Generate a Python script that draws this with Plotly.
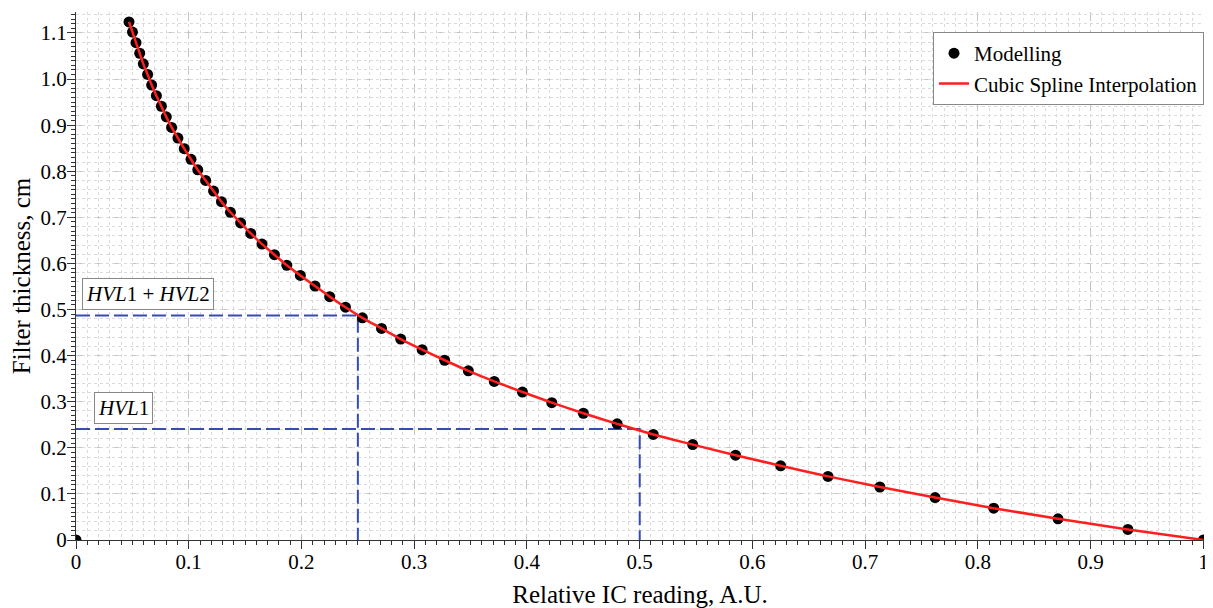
import plotly.graph_objects as go

# ---- data ----
model_x = [0.0, 1.0, 0.933, 0.871, 0.814, 0.762, 0.713, 0.667, 0.625, 0.585, 0.547,
           0.512, 0.480, 0.450, 0.422, 0.396, 0.371, 0.348, 0.327, 0.307, 0.288,
           0.271, 0.254, 0.239, 0.225, 0.212, 0.199, 0.187, 0.176, 0.165, 0.155,
           0.146, 0.137, 0.129, 0.122, 0.115, 0.108, 0.102, 0.096, 0.0904, 0.0848,
           0.0801, 0.0757, 0.0713, 0.0671, 0.0635, 0.0597, 0.0565, 0.0532, 0.0501, 0.0470]
model_y = [0.0, 0.0, 0.023, 0.046, 0.069, 0.092, 0.115, 0.138, 0.161, 0.184, 0.207,
           0.229, 0.252, 0.275, 0.298, 0.321, 0.344, 0.367, 0.390, 0.413, 0.436,
           0.459, 0.482, 0.505, 0.528, 0.551, 0.574, 0.596, 0.619, 0.642, 0.665,
           0.688, 0.711, 0.734, 0.757, 0.780, 0.803, 0.826, 0.849, 0.872, 0.895,
           0.918, 0.941, 0.964, 0.987, 1.010, 1.033, 1.056, 1.079, 1.102, 1.124]
spline_x = model_x[1:]
spline_y = model_y[1:]

hvl1_x, hvl1_y = 0.5, 0.241
hvl12_x, hvl12_y = 0.25, 0.487

x_ticks = [0, 0.1, 0.2, 0.3, 0.4, 0.5, 0.6, 0.7, 0.8, 0.9, 1.0]
x_ticktext = ["0", "0.1", "0.2", "0.3", "0.4", "0.5", "0.6", "0.7", "0.8", "0.9", "1"]
y_ticks = [0, 0.1, 0.2, 0.3, 0.4, 0.5, 0.6, 0.7, 0.8, 0.9, 1.0, 1.1]
y_ticktext = ["0", "0.1", "0.2", "0.3", "0.4", "0.5", "0.6", "0.7", "0.8", "0.9", "1.0", "1.1"]

FONT = "Liberation Serif, Times New Roman, serif"
BLUE = "rgb(55,75,180)"
X_RANGE = [0, 1.0005]
Y_RANGE = [0, 1.1455]

fig = go.Figure()

# dashed HVL guide lines
fig.add_trace(go.Scatter(x=[0, hvl12_x, hvl12_x], y=[hvl12_y, hvl12_y, 0], mode="lines",
                         line=dict(color=BLUE, width=2, dash="14px,5px"),
                         showlegend=False, hoverinfo="skip", cliponaxis=False))
fig.add_trace(go.Scatter(x=[0, hvl1_x, hvl1_x], y=[hvl1_y, hvl1_y, 0], mode="lines",
                         line=dict(color=BLUE, width=2, dash="14px,5px"),
                         showlegend=False, hoverinfo="skip", cliponaxis=False))

fig.add_trace(go.Scatter(x=model_x, y=model_y, mode="markers", name="Modelling",
                         marker=dict(color="black", size=11)))
fig.add_trace(go.Scatter(x=spline_x, y=spline_y, mode="lines", name="Cubic Spline Interpolation",
                         line=dict(color="rgb(255,30,30)", width=2.5, shape="spline")))
# empty trace to carry the overlay axis for the minor horizontal grid
fig.add_trace(go.Scatter(x=[], y=[], yaxis="y2", showlegend=False))

fig.add_annotation(x=0.0636, y=0.534, xref="x", yref="y",
                   text="<i>HVL</i>1 + <i>HVL</i>2", showarrow=False,
                   font=dict(family=FONT, size=21, color="black"),
                   bordercolor="#888888", borderwidth=1, borderpad=3, bgcolor="white")
fig.add_annotation(x=0.0424, y=0.286, xref="x", yref="y",
                   text="<i>HVL</i>1", showarrow=False,
                   font=dict(family=FONT, size=21, color="black"),
                   bordercolor="#888888", borderwidth=1, borderpad=3, bgcolor="white")

# page body has an 8px margin: size the figure so the plot lands where the reference has it
fig.update_layout(
    width=1205, height=600,
    margin=dict(l=68, r=9, t=4, b=68),
    paper_bgcolor="white", plot_bgcolor="white",
    font=dict(family=FONT, size=20, color="black"),
    showlegend=True,
    legend=dict(x=1.0, y=0.962, xanchor="right", yanchor="top",
                bgcolor="white", bordercolor="#888888", borderwidth=1,
                font=dict(family=FONT, size=21, color="black"),
                tracegroupgap=0),
    xaxis=dict(range=X_RANGE, tickmode="array", tickvals=x_ticks, ticktext=x_ticktext,
               automargin=False, ticklabeloverflow="allow", ticklabelstandoff=-5,
               ticks="outside", ticklen=8, tickcolor="#333333",
               showline=True, linecolor="#333333", linewidth=1, zeroline=False,
               showgrid=True, gridcolor="#c4c4c4", griddash="dash", gridwidth=1,
               minor=dict(tick0=0, dtick=0.01, ticks="outside", ticklen=4, tickcolor="#333333",
                          showgrid=True, gridcolor="#dadada", griddash="dot", gridwidth=1),
               tickfont=dict(family=FONT, size=21, color="black"),
               title=dict(text="Relative IC reading, A.U.",
                          font=dict(family=FONT, size=25, color="black"))),
    yaxis=dict(range=Y_RANGE, tickmode="array", tickvals=y_ticks, ticktext=y_ticktext,
               automargin=False, ticklabeloverflow="allow", ticklabelstandoff=-4,
               ticks="outside", ticklen=8, tickcolor="#333333",
               showline=True, linecolor="#333333", linewidth=1, zeroline=False,
               showgrid=True, gridcolor="#c4c4c4", griddash="dash", gridwidth=1,
               minor=dict(tick0=0, dtick=0.01, ticks="outside", ticklen=4, tickcolor="#333333",
                          showgrid=False),
               tickfont=dict(family=FONT, size=21, color="black"),
               title=dict(text="Filter thickness, cm",
                          font=dict(family=FONT, size=25, color="black"))),
    yaxis2=dict(range=Y_RANGE, overlaying="y", side="left", tickmode="linear", tick0=0, dtick=0.02,
                automargin=False,
                showticklabels=False, ticks="", showline=False, zeroline=False,
                showgrid=True, gridcolor="#dadada", griddash="dot", gridwidth=1),
)

fig.write_html("out.html")
